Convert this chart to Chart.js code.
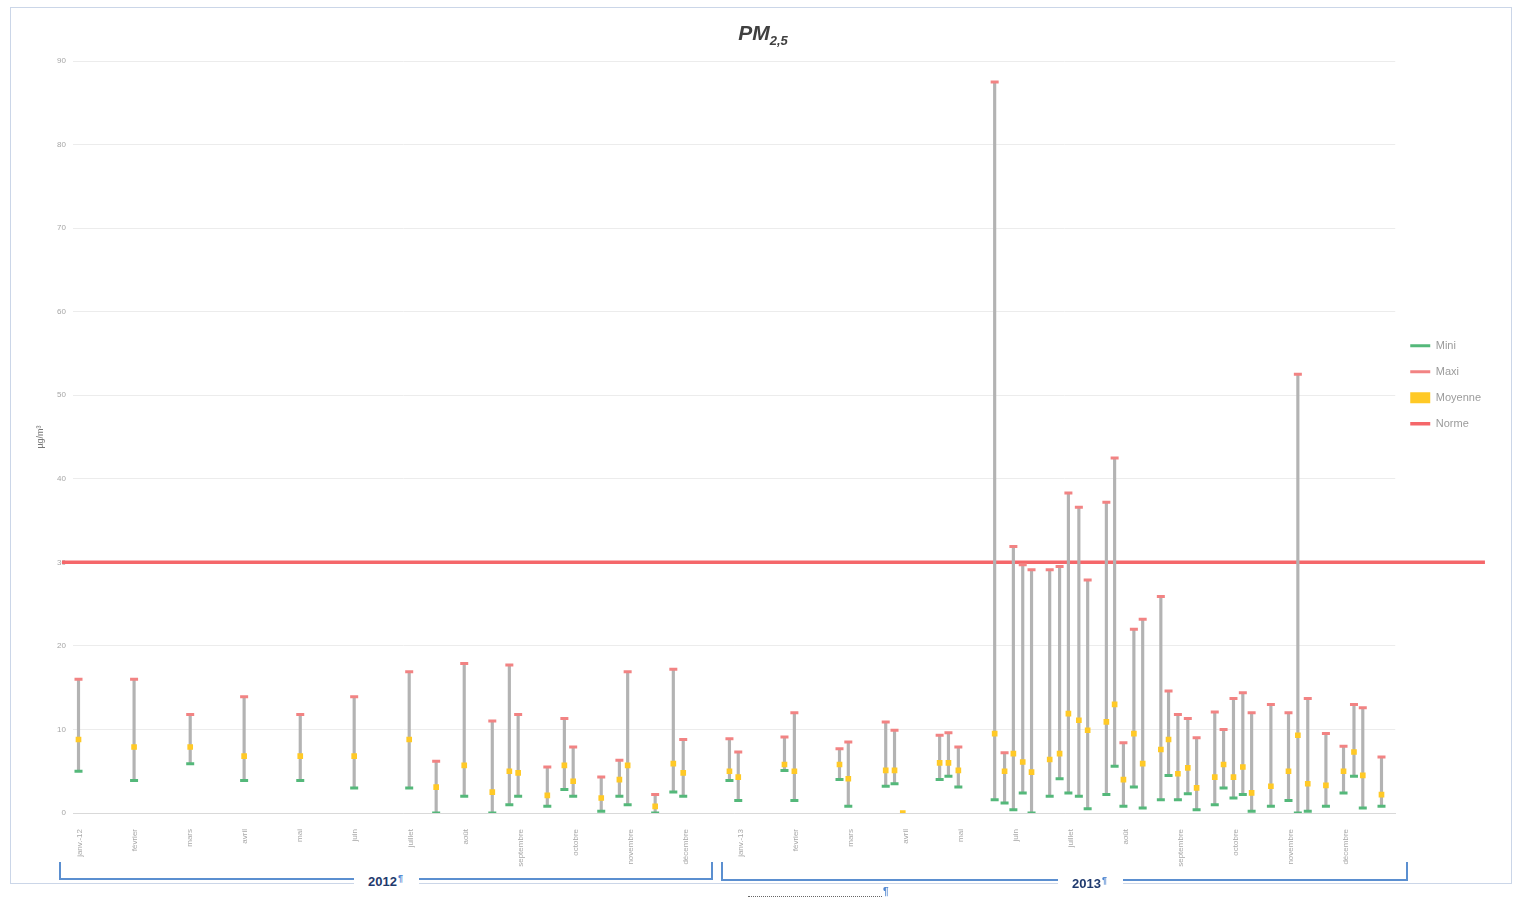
<!DOCTYPE html>
<html lang="fr">
<head>
<meta charset="utf-8">
<title>PM2,5</title>
<script src="https://cdn.jsdelivr.net/npm/chart.js@4.4.1/dist/chart.umd.min.js"></script>
<style>
  html, body { margin: 0; padding: 0; background: #fff; }
  body { width: 1514px; height: 903px; position: relative; overflow: hidden; font-family: "Liberation Sans", Arial, sans-serif; }
  .frame { position: absolute; left: 10px; top: 7px; width: 1502px; height: 877px; border: 1px solid #cbd6e8; box-sizing: border-box; }
  .frame canvas { display: block; }
  .title { position: absolute; left: 663px; top: 21px; width: 200px; text-align: center; font: italic bold 21px "Liberation Sans", Arial, sans-serif; color: #404040; }
  .title sub { font-size: 13px; vertical-align: -5px; }
  .bracket { position: absolute; border: 2px solid #5b8fd0; border-top: none; box-sizing: border-box; }
  .year { position: absolute; background: #fff; padding: 0 16px 0 14px; font: bold 13px "Liberation Sans", Arial, sans-serif; color: #1f3a6e; }
  .pil { color: #4f86d0; font-size: 9px; vertical-align: 5px; margin-left: 1px; }
  .dots { position: absolute; left: 748px; top: 896px; width: 134px; border-top: 1px dotted #666; }
  .dots-pil { position: absolute; left: 883px; top: 886px; color: #4f86d0; font-size: 10px; font-weight: bold; }
</style>
</head>
<body>
<div class="frame"><canvas id="chart"></canvas></div>
<div class="title">PM<sub>2,5</sub></div>

<div class="bracket" style="left:59px; top:862px; width:654px; height:18px;"></div>
<div class="year" style="left:354px; top:873px;">2012<span class="pil">¶</span></div>
<div class="bracket" style="left:721px; top:862px; width:687px; height:19px;"></div>
<div class="year" style="left:1058px; top:875px;">2013<span class="pil">¶</span></div>
<div class="dots"></div>
<div class="dots-pil">¶</div>

<script>
// month ticks (0 = janv. 2012)
const monthLabels = [
  'janv.-12', 'février', 'mars', 'avril', 'mai', 'juin', 'juillet', 'août',
  'septembre', 'octobre', 'novembre', 'décembre',
  'janv.-13', 'février', 'mars', 'avril', 'mai', 'juin', 'juillet', 'août',
  'septembre', 'octobre', 'novembre', 'décembre',
];

// position of each measurement, in months since janv. 2012
const positions = [
  -0.03, 0.98, 2, 2.98, 4, 4.98, 5.98, 6.47, 6.98, 7.49, 7.8, 7.96, 8.49, 8.8, 8.96, 9.47, 9.8, 9.95, 10.45, 10.78, 10.96,
  11.8, 11.96, 12.8, 12.98, 13.8, 13.96, 14.64, 14.8, 14.95, 15.62, 15.78, 15.96, 16.62, 16.8, 16.96, 17.13, 17.29,
  17.62, 17.8, 17.96, 18.15, 18.31, 18.65, 18.8, 18.96, 19.15, 19.31, 19.64, 19.78, 19.95, 20.13, 20.29, 20.62, 20.78,
  20.96, 21.13, 21.29, 21.64, 21.96, 22.13, 22.31, 22.64, 22.96, 23.15, 23.31, 23.65,
];
const mini = [
  5, 3.9, 5.9, 3.9, 3.9, 3, 3, 0, 2, 0, 1, 2, 0.8, 2.8, 2, 0.2, 2, 1, 0, 2.5, 2,
  3.9, 1.5, 5.1, 1.5, 4, 0.8, 3.2, 3.5, null, 4, 4.4, 3.1, 1.6, 1.2, 0.4, 2.4, 0,
  2, 4.1, 2.4, 2, 0.5, 2.2, 5.6, 0.8, 3.1, 0.6, 1.6, 4.5, 1.6, 2.3, 0.4, 1, 3,
  1.8, 2.2, 0.2, 0.8, 1.5, 0, 0.2, 0.8, 2.4, 4.4, 0.6, 0.8,
];
const moyenne = [
  8.8, 7.9, 7.9, 6.8, 6.8, 6.8, 8.8, 3.1, 5.7, 2.5, 5, 4.8, 2.1, 5.7, 3.8, 1.8, 4, 5.7, 0.8, 5.9, 4.8,
  5, 4.3, 5.8, 5, 5.8, 4.1, 5.1, 5.1, 0, 6, 6, 5.1, 9.5, 5, 7.1, 6.1, 4.9,
  6.4, 7.1, 11.9, 11.1, 9.9, 10.9, 13, 4, 9.5, 5.9, 7.6, 8.8, 4.7, 5.4, 3, 4.3, 5.8,
  4.3, 5.5, 2.4, 3.2, 5, 9.3, 3.5, 3.3, 5, 7.3, 4.5, 2.2,
];
const maxi = [
  16, 16, 11.8, 13.9, 11.8, 13.9, 16.9, 6.2, 17.9, 11, 17.7, 11.8, 5.5, 11.3, 7.9, 4.3, 6.3, 16.9, 2.2, 17.2, 8.8,
  8.9, 7.3, 9.1, 12, 7.7, 8.5, 10.9, 9.9, null, 9.3, 9.6, 7.9, 87.5, 7.2, 31.9, 29.7, 29.1,
  29.1, 29.5, 38.3, 36.6, 27.9, 37.2, 42.5, 8.4, 22, 23.2, 25.9, 14.6, 11.8, 11.3, 9, 12.1, 10,
  13.7, 14.4, 12, 13, 12, 52.5, 13.7, 9.5, 8, 13, 12.6, 6.7,
];

// limit value and the span its line covers
const normeValue = 30;
const normeSpan = [-0.33, 25.53];

const GREEN = '#54b87a';
const RED = '#f28383';
const YELLOW = '#ffc926';
const NORME_RED = '#f5676a';
const GREY = '#b3b3b3';

const toPoints = values => positions.map((x, i) => ({ x, y: values[i] }));
const rangeData = positions
  .map((x, i) => (mini[i] == null ? null : { x, y: [mini[i], maxi[i]] }))
  .filter(Boolean);

Chart.defaults.font.family = '"Liberation Sans", Arial, sans-serif';

new Chart(document.querySelector('#chart'), {
  type: 'bar',
  data: {
    datasets: [
      {
        type: 'scatter',
        label: 'Mini',
        data: toPoints(mini),
        order: 1,
        pointStyle: 'line',
        pointRadius: 4,
        pointBorderWidth: 3,
        pointBorderColor: GREEN,
        pointBackgroundColor: GREEN,
        borderColor: GREEN,
        backgroundColor: GREEN,
      },
      {
        type: 'scatter',
        label: 'Maxi',
        data: toPoints(maxi),
        order: 2,
        pointStyle: 'line',
        pointRadius: 4,
        pointBorderWidth: 3,
        pointBorderColor: RED,
        pointBackgroundColor: RED,
        borderColor: RED,
        backgroundColor: RED,
      },
      {
        type: 'scatter',
        label: 'Moyenne',
        data: toPoints(moyenne),
        order: 3,
        pointStyle: 'rect',
        pointRadius: 4,
        pointBorderWidth: 0,
        pointBorderColor: YELLOW,
        pointBackgroundColor: YELLOW,
        borderColor: YELLOW,
        backgroundColor: YELLOW,
      },
      {
        type: 'line',
        label: 'Norme',
        data: normeSpan.map(x => ({ x, y: normeValue })),
        order: 6,
        borderColor: NORME_RED,
        backgroundColor: NORME_RED,
        borderWidth: 3.5,
        pointRadius: 0,
        pointStyle: 'line',
        pointBorderColor: NORME_RED,
        pointBorderWidth: 3.5,
        clip: false,
      },
      {
        type: 'bar',
        label: '',
        data: rangeData,
        order: 5,
        backgroundColor: GREY,
        barThickness: 2.5,
      },
    ],
  },
  options: {
    responsive: true,
    maintainAspectRatio: false,
    animation: false,
    layout: { padding: { top: 53, right: 20, bottom: 0, left: 0 } },
    scales: {
      x: {
        type: 'linear',
        min: -0.13,
        max: 23.9,
        offset: false,
        grid: { display: false },
        border: { display: true, color: '#d9d9d9' },
        ticks: {
          stepSize: 1,
          includeBounds: false,
          autoSkip: false,
          minRotation: 90,
          maxRotation: 90,
          padding: 8,
          color: '#a8a8a8',
          font: { size: 8 },
          callback: value => (Number.isInteger(value) ? monthLabels[value] : ''),
        },
        afterFit(scale) {
          scale.height = 70;
        },
      },
      y: {
        min: 0,
        max: 90,
        grid: { color: '#ececec', drawTicks: false },
        border: { display: false },
        ticks: { stepSize: 10, padding: 7, color: '#a6a6a6', font: { size: 8 } },
        title: {
          display: true,
          text: 'µg/m³',
          color: '#777',
          font: { size: 9 },
          padding: { top: 24, bottom: 0 },
        },
        afterFit(scale) {
          scale.width = 62;
        },
      },
    },
    plugins: {
      tooltip: { enabled: false },
      legend: {
        position: 'right',
        align: 'start',
        title: { display: true, text: ' ', font: { size: 11 }, padding: { top: 251, bottom: 0 } },
        labels: {
          usePointStyle: true,
          pointStyleWidth: 20,
          padding: 15,
          color: '#9b9b9b',
          font: { size: 11 },
          filter: item => item.text !== '',
        },
      },
    },
  },
});
</script>
</body>
</html>
